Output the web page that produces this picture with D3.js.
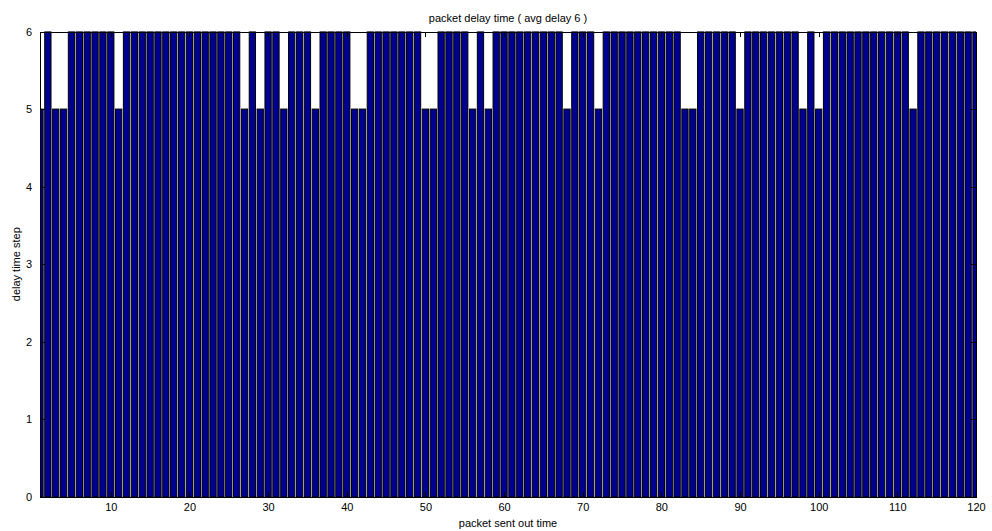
<!DOCTYPE html>
<html>
<head>
<meta charset="utf-8">
<script src="https://cdn.jsdelivr.net/npm/d3@7"></script>
<style>
  body { margin: 0; background: #fff; }
  text { font-family: "Liberation Sans", Arial, sans-serif; }
  .axis path, .axis line { stroke: #000; shape-rendering: crispEdges; }
  .axis text { font-size: 11px; fill: #000; }
</style>
</head>
<body>
<script>
// packet index 1..120, delay value
var packets = d3.range(1, 121);
var shortDelay = [1, 3, 4, 11, 27, 29, 32, 36, 41, 42, 50, 51, 56, 58, 68, 72, 83, 84, 90, 98, 100, 112];
var delays = packets.map(function(p) { return shortDelay.indexOf(p) >= 0 ? 5 : 6; });
var xTicks = [10, 20, 30, 40, 50, 60, 70, 80, 90, 100, 110, 120];
var yTicks = [0, 1, 2, 3, 4, 5, 6];

var width = 992, height = 531;
var plot = { left: 40, right: 976, top: 31.5, bottom: 497 };

var svg = d3.select("body").append("svg")
    .attr("width", width)
    .attr("height", height);

var xScale = d3.scaleLinear().domain([1, 120]).range([plot.left, plot.right]);
var yScale = d3.scaleLinear().domain([0, 6]).range([plot.bottom, plot.top]);
var barW = (xScale(2) - xScale(1)) * 0.8;

svg.append("clipPath")
    .attr("id", "plotclip")
    .append("rect")
    .attr("x", plot.left)
    .attr("y", plot.top)
    .attr("width", plot.right - plot.left)
    .attr("height", plot.bottom - plot.top);

svg.append("g")
    .attr("clip-path", "url(#plotclip)")
    .selectAll("rect")
    .data(packets)
    .enter().append("rect")
    .attr("x", function(d) { return xScale(d) - barW / 2; })
    .attr("y", function(d, i) { return yScale(delays[i]); })
    .attr("width", barW)
    .attr("height", function(d, i) { return yScale(0) - yScale(delays[i]); })
    .attr("fill", "#000090")
    .attr("stroke", "#000")
    .attr("stroke-width", 1);

// axes, ticks point inwards like matlab
svg.append("g")
    .attr("class", "axis")
    .attr("transform", "translate(0," + plot.bottom + ")")
    .call(d3.axisBottom(xScale).tickValues(xTicks).tickSizeInner(-5).tickSizeOuter(0).tickPadding(6));

svg.append("g")
    .attr("class", "axis")
    .attr("transform", "translate(0," + plot.top + ")")
    .call(d3.axisTop(xScale).tickValues(xTicks).tickSizeInner(-5).tickSizeOuter(0).tickFormat(""));

svg.append("g")
    .attr("class", "axis")
    .attr("transform", "translate(" + plot.left + ",0)")
    .call(d3.axisLeft(yScale).tickValues(yTicks).tickFormat(d3.format("d"))
        .tickSizeInner(-5).tickSizeOuter(0).tickPadding(8));

svg.append("g")
    .attr("class", "axis")
    .attr("transform", "translate(" + plot.right + ",0)")
    .call(d3.axisRight(yScale).tickValues(yTicks).tickSizeInner(-5).tickSizeOuter(0).tickFormat(""));

svg.append("text")
    .attr("x", (plot.left + plot.right) / 2)
    .attr("y", 22)
    .attr("text-anchor", "middle")
    .attr("font-size", "11px")
    .text("packet delay time ( avg delay 6 )");

svg.append("text")
    .attr("x", (plot.left + plot.right) / 2)
    .attr("y", 527)
    .attr("text-anchor", "middle")
    .attr("font-size", "11px")
    .text("packet sent out time");

svg.append("text")
    .attr("transform", "translate(20," + ((plot.top + plot.bottom) / 2) + ") rotate(-90)")
    .attr("text-anchor", "middle")
    .attr("font-size", "11px")
    .text("delay time step");
</script>
</body>
</html>
